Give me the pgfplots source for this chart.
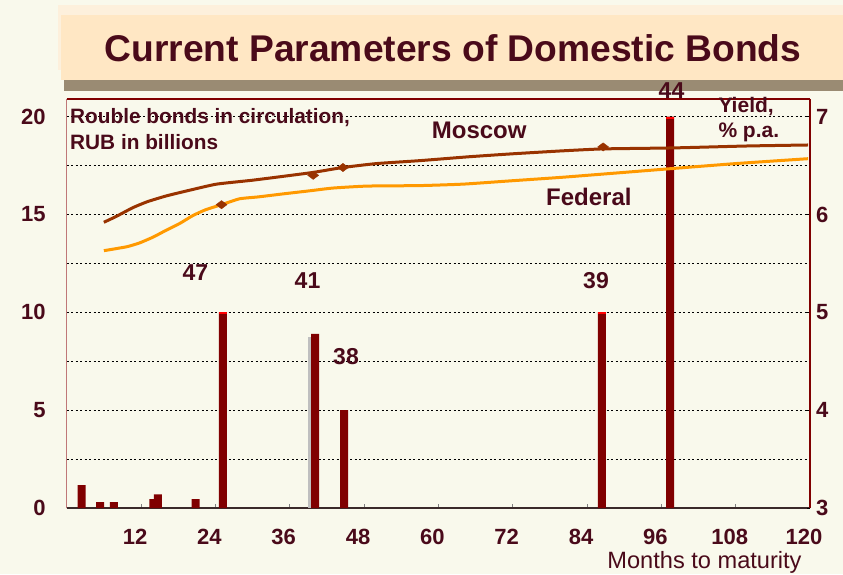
\documentclass[border=0pt]{standalone}
\usepackage{pgfplots}
\pgfplotsset{compat=1.18}
\usepackage{fontspec}
\setmainfont{Liberation Sans}
\definecolor{bg}{HTML}{F9F9EC}
\definecolor{peachlight}{HTML}{FDF0DC}
\definecolor{peach}{HTML}{FFE7C4}
\definecolor{graybar}{HTML}{9A8B73}
\definecolor{txt}{HTML}{4A0A1A}
\definecolor{barcol}{HTML}{800000}
\definecolor{moscow}{HTML}{993300}
\definecolor{federal}{HTML}{FF9900}
\definecolor{pinkax}{HTML}{C07878}
\definecolor{axisdark}{HTML}{3A2A2A}
\begin{document}
\begin{tikzpicture}[x=1pt,y=1pt]
\path[use as bounding box] (0,0) rectangle (843,574);
\fill[bg] (0,0) rectangle (843,574);
\fill[peachlight] (58,504) rectangle (843,569);
\fill[peach] (61,494) rectangle (843,559);
\fill[graybar] (64,483) rectangle (843,494);
\node[anchor=base, text=txt, font=\fontsize{37.2}{40}\selectfont\bfseries] at (453,512.3) {Current Parameters of Domestic Bonds};

\begin{axis}[
  at={(66.7pt,66pt)}, anchor=south west, scale only axis,
  width=743.3pt, height=409pt,
  xmin=0, xmax=120, ymin=0, ymax=20.9,
  axis x line*=bottom, axis y line*=left,
  x axis line style={-, draw=axisdark, line width=1.5pt},
  y axis line style={-, draw=pinkax, line width=1.2pt},
  xtick={12,24,...,120}, xtick align=inside, major tick length=4pt,
  xtick style={draw=gray, line width=1pt},
  ytick={0,5,10,15,20}, minor ytick={2.5,7.5,12.5,17.5},
  ytick style={draw=none}, minor tick style={draw=none},
  ymajorgrids, yminorgrids,
  major grid style={draw=black, line width=0.8pt, dash pattern=on 2pt off 2.5pt},
  minor grid style={draw=black, line width=0.8pt, dash pattern=on 2pt off 2.5pt},
  /pgf/number format/assume math mode=true,
  tick label style={font=\fontsize{22}{24}\selectfont\bfseries, text=txt, inner sep=0pt},
  yticklabel style={anchor=east, xshift=-21pt},
  xticklabel style={anchor=north, yshift=-21pt, xshift=-6pt},
  clip=false,
]
\addplot[ybar, bar shift=0pt, bar width=6pt, fill=gray!50, draw=none] coordinates {(39.45,8.75)};
\addplot[ybar, bar shift=0pt, bar width=8pt, fill=barcol, draw=none] coordinates {
  (2.4,1.17) (5.4,0.3) (7.6,0.3) (14.0,0.45) (14.7,0.7) (20.8,0.45)
  (25.2,10) (40.1,8.9) (44.8,5) (86.4,10) (97.4,20)
};
\addplot[only marks, mark=-, mark size=4pt, mark options={line width=2pt, draw=red}] coordinates {
  (25.2,9.95) (86.4,9.95) (97.4,19.95)
};
\end{axis}

\begin{axis}[
  at={(66.7pt,66pt)}, anchor=south west, scale only axis,
  width=743.3pt, height=409pt,
  xmin=0, xmax=120, ymin=3, ymax=7.18,
  axis x line=none, axis y line*=right,
  y axis line style={-, draw=barcol, line width=1.5pt},
  ytick={3,4,5,6,7},
  ytick align=inside, major tick length=3pt,
  ytick style={draw=black, line width=1pt},
  /pgf/number format/assume math mode=true,
  tick label style={font=\fontsize{22}{24}\selectfont\bfseries, text=txt, inner sep=0pt},
  yticklabel style={anchor=west, xshift=6pt},
  clip=false,
]
\addplot[federal, line width=3pt, smooth, tension=0.3] coordinates {
  (6,5.63) (9.7,5.67) (11.8,5.71) (14,5.77) (16.1,5.84) (18.3,5.91) (20.4,5.99)
  (22.5,6.05) (25,6.10) (27.9,6.16) (31,6.18) (34.9,6.21) (39,6.24) (43,6.27)
  (48.5,6.29) (57,6.295) (64,6.31) (72,6.345) (80,6.38) (90,6.43) (97.9,6.47)
  (108,6.52) (119.7,6.57)
};
\addplot[moscow, line width=3pt, smooth, tension=0.3] coordinates {
  (6,5.92) (8,5.98) (10.7,6.07) (13,6.13) (16.1,6.19) (20,6.25) (24.2,6.31)
  (30,6.35) (35,6.39) (39.8,6.43) (44.6,6.48) (50,6.52) (57,6.55) (65,6.59)
  (72,6.62) (80,6.65) (86.6,6.67) (97.9,6.68) (110,6.70) (119.7,6.71)
};
\addplot[only marks, mark=diamond*, mark size=5.5pt, mark options={rotate=90}, color=moscow] coordinates {
  (25,6.10) (39.8,6.40) (44.6,6.48) (86.6,6.69)
};
\end{axis}

\draw[barcol, line width=1.5pt] (66.7,475) -- (810,475);

\begin{scope}[every node/.style={text=txt, inner sep=0pt}]
\node[anchor=base west, font=\fontsize{20.8}{22}\selectfont\bfseries] at (70,450.7) {Rouble bonds in circulation,};
\node[anchor=base west, font=\fontsize{20.8}{22}\selectfont\bfseries] at (70,424) {RUB in billions};
\node[anchor=base west, font=\fontsize{24}{26}\selectfont\bfseries] at (431.7,435.7) {Moscow};
\node[anchor=base west, font=\fontsize{24}{26}\selectfont\bfseries] at (546,368) {Federal};
\node[anchor=base west, font=\fontsize{21}{23}\selectfont\bfseries] at (718.3,461.7) {Yield,};
\node[anchor=base west, font=\fontsize{21}{23}\selectfont\bfseries] at (718.3,436.7) {\% p.a.};
\node[font=\fontsize{23}{25}\selectfont\bfseries] at (195.5,301) {47};
\node[font=\fontsize{23}{25}\selectfont\bfseries] at (307.5,293) {41};
\node[font=\fontsize{23}{25}\selectfont\bfseries] at (346,217) {38};
\node[font=\fontsize{23}{25}\selectfont\bfseries] at (596,293) {39};
\node[font=\fontsize{23}{25}\selectfont\bfseries] at (671.5,483) {44};
\node[anchor=base, font=\fontsize{23.6}{25}\selectfont] at (704.5,6) {Months to maturity};
\end{scope}
\end{tikzpicture}
\end{document}
